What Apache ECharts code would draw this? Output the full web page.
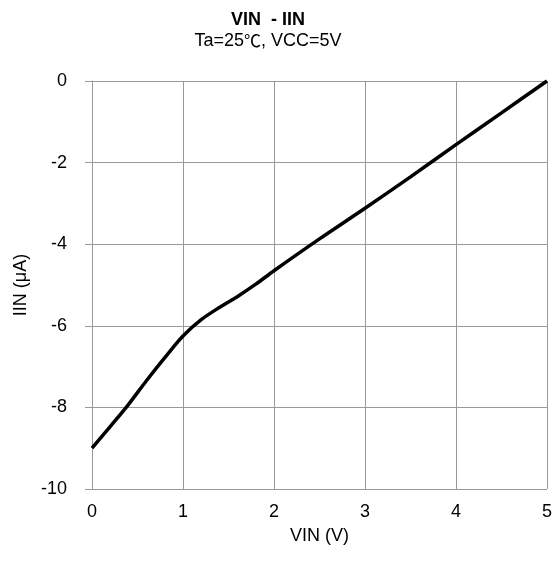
<!DOCTYPE html>
<html>
<head>
<meta charset="utf-8">
<script src="https://cdn.jsdelivr.net/npm/echarts@6/dist/echarts.min.js"></script>
<style>
html,body{margin:0;padding:0;background:#fff;}
#chart{width:555px;height:563px;}
</style>
</head>
<body>
<div id="chart"></div>
<script>
const vin = [0, 0.2, 0.4, 0.6, 0.8, 1.0, 1.2, 1.4, 1.6, 1.8, 2.0, 2.5, 3.0, 3.5, 4.0, 4.5, 5.0];
const iin = [-9.0, -8.47, -7.93, -7.34, -6.78, -6.25, -5.85, -5.55, -5.28, -4.98, -4.65, -3.87, -3.12, -2.35, -1.56, -0.78, 0];
const xTicks = [0, 1, 2, 3, 4, 5];
const yTicks = [-10, -8, -6, -4, -2, 0];

const chart = echarts.init(document.getElementById('chart'), null, {renderer: 'canvas'});
const font = '"Liberation Sans", Arial, sans-serif';
const gridColor = '#999999';
chart.setOption({
  animation: false,
  backgroundColor: '#ffffff',
  title: {
    text: 'VIN  - IIN',
    subtext: '{a|Ta=25}{c|\u2103}{a|, VCC=5V}',
    left: 263,
    textAlign: 'center',
    top: 6,
    itemGap: 3,
    textStyle: {fontFamily: font, fontSize: 18, fontWeight: 'bold', color: '#000'},
    subtextStyle: {
      fontFamily: font, fontSize: 18, color: '#000',
      rich: {
        a: {fontFamily: font, fontSize: 18, color: '#000'},
        c: {fontFamily: '"Noto Sans CJK JP"', fontSize: 17, color: '#000'}
      }
    }
  },
  grid: {left: 92, right: 6, top: 81, bottom: 74},
  xAxis: {
    type: 'value', min: 0, max: 5, interval: 1,
    name: 'VIN (V)', nameLocation: 'middle', nameGap: 38,
    nameTextStyle: {fontFamily: font, fontSize: 18, color: '#000'},
    axisLine: {show: true, lineStyle: {color: gridColor, width: 1}},
    axisTick: {show: true, length: 6, lineStyle: {color: gridColor}},
    axisLabel: {fontFamily: font, fontSize: 18, color: '#000', margin: 14,
      formatter: v => xTicks.includes(v) ? String(v) : ''},
    splitLine: {show: true, lineStyle: {color: gridColor, width: 1}}
  },
  yAxis: {
    type: 'value', min: -10, max: 0, interval: 2,
    name: 'IIN (\u03bcA)', nameLocation: 'middle', nameGap: 60,
    nameTextStyle: {fontFamily: font, fontSize: 18, color: '#000'},
    axisLine: {show: true, lineStyle: {color: gridColor, width: 1}},
    axisTick: {show: true, length: 7, lineStyle: {color: gridColor}},
    axisLabel: {fontFamily: font, fontSize: 18, color: '#000', margin: 25,
      formatter: v => yTicks.includes(v) ? String(v) : ''},
    splitLine: {show: true, lineStyle: {color: gridColor, width: 1}}
  },
  series: [{
    type: 'line',
    data: vin.map((x, i) => [x, iin[i]]),
    smooth: 0.3,
    showSymbol: false,
    lineStyle: {color: '#000', width: 3.5},
    clip: false
  }]
});
</script>
</body>
</html>
